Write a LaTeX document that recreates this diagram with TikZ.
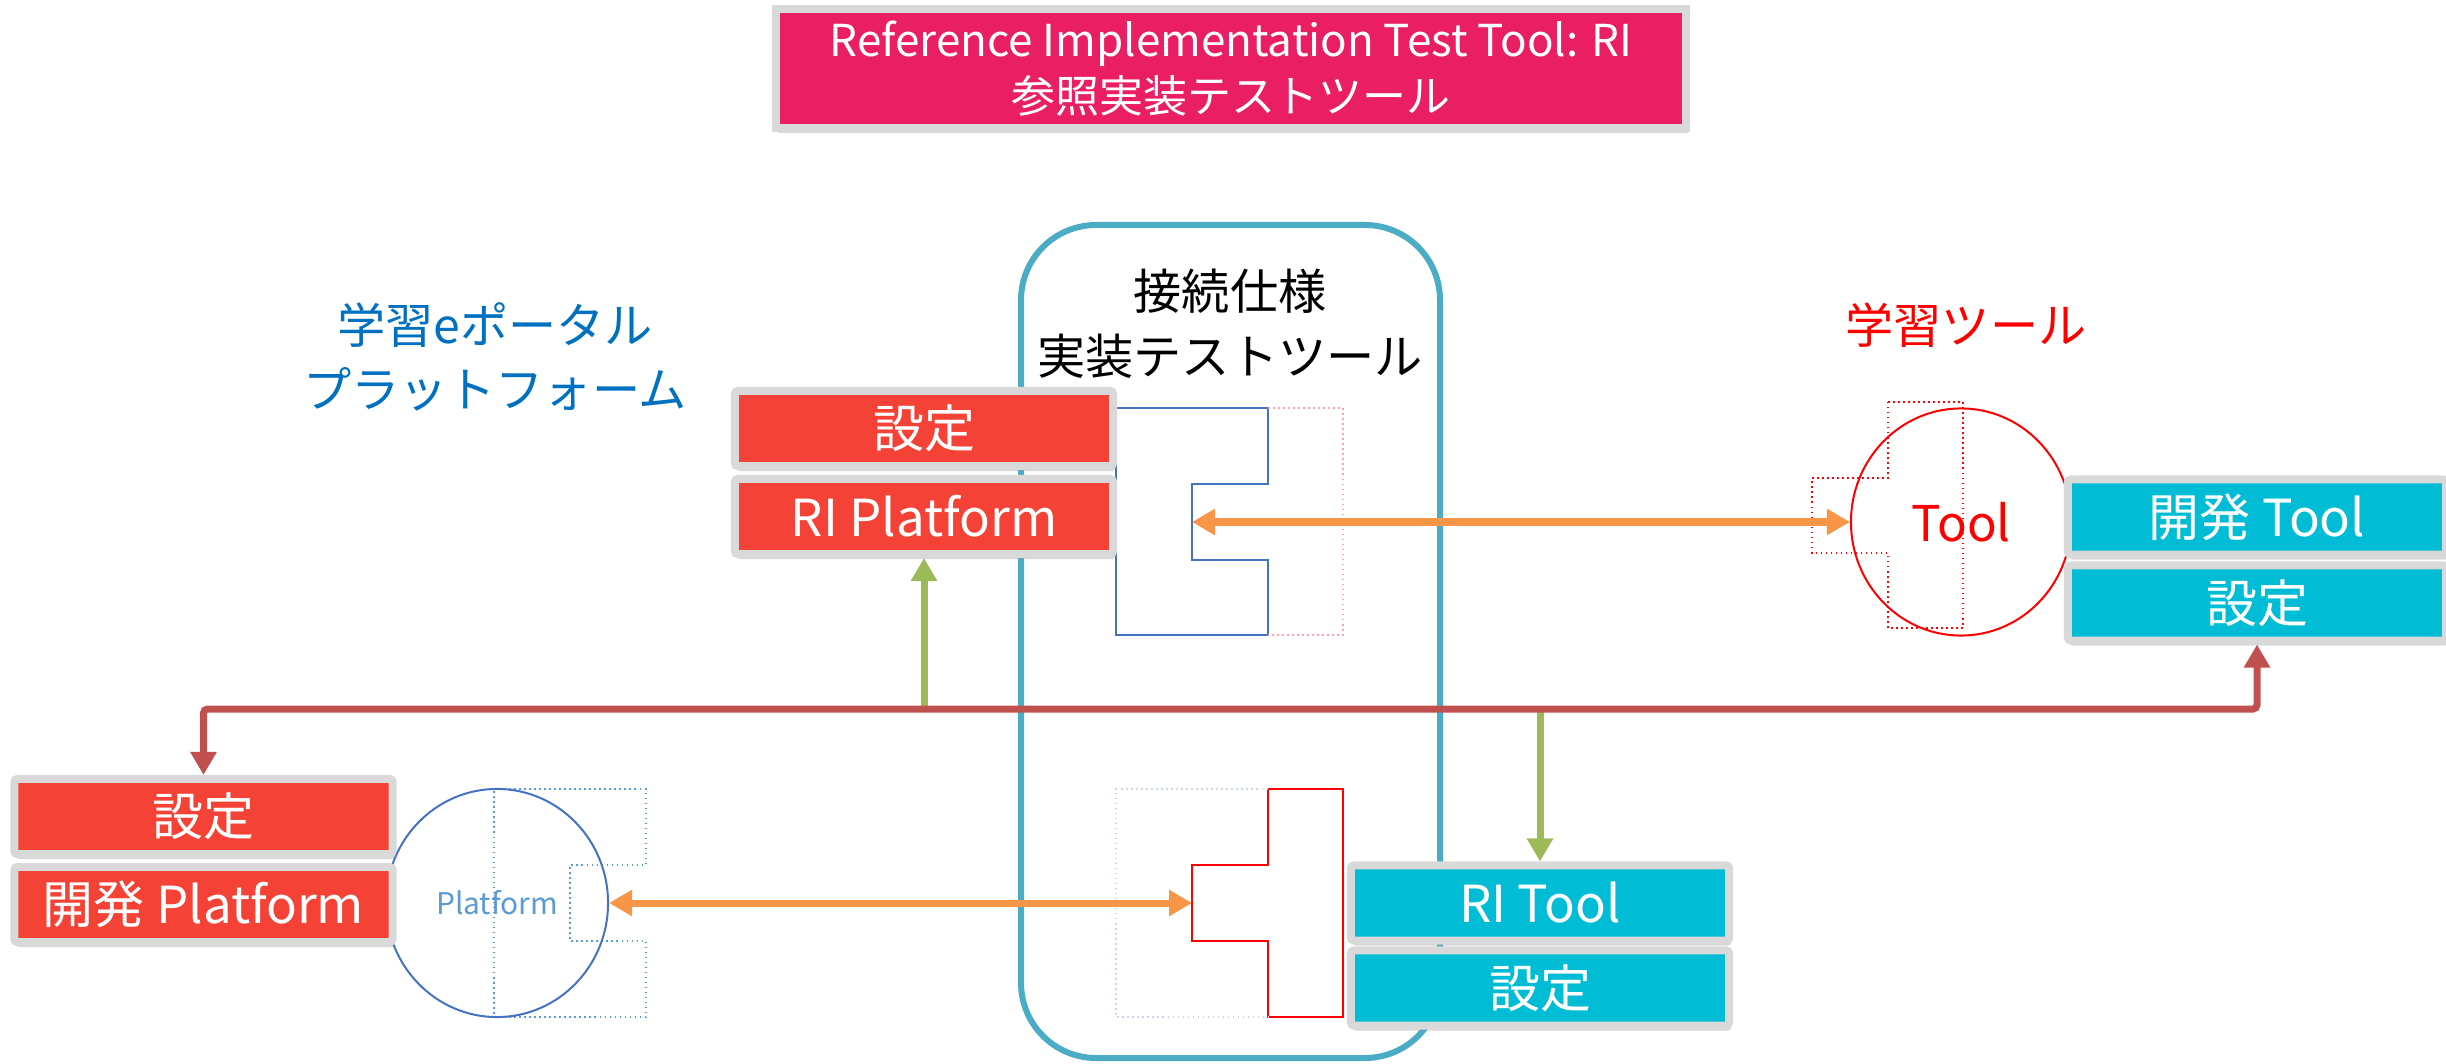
\documentclass[tikz,border=0pt]{standalone}
\usepackage{fontspec}
\usepackage{tikz}
\usetikzlibrary{arrows.meta,shapes.geometric,shadows}
\newfontfamily\jpfont{Noto Sans CJK JP}
\definecolor{titlepink}{HTML}{E91E63}
\definecolor{boxred}{HTML}{F44336}
\definecolor{boxcyan}{HTML}{00BCD4}
\definecolor{framegray}{HTML}{D9D9D9}
\definecolor{busred}{HTML}{C0504D}
\definecolor{busgreen}{HTML}{9BBB59}
\definecolor{linkorange}{HTML}{F79646}
\definecolor{specteal}{HTML}{4BACC6}
\definecolor{plugblue}{HTML}{4472C4}
\definecolor{lightblue}{HTML}{5B9BD5}
\definecolor{labelblue}{HTML}{0070C0}
\definecolor{ghostblue}{HTML}{C9D7EE}
\definecolor{ghostpink}{HTML}{FF9FA8}

\begin{document}
\begin{tikzpicture}[x=0.01cm,y=-0.01cm,
    >={Triangle[length=0.23cm,width=0.25cm]},
    shade/.style={drop shadow={shadow xshift=0.02cm,shadow yshift=-0.05cm,opacity=0.3}},
    frame/.style={draw=framegray,line width=0.08cm,rounded corners=0.03cm,inner sep=0pt,
      minimum width=3.78cm,minimum height=0.75cm,text=white,shade,
      font=\jpfont\fontsize{14.5pt}{17pt}\selectfont},
    redbox/.style={frame,fill=boxred},
    cyanbox/.style={frame,fill=boxcyan},
    label/.style={align=center,font=\jpfont\fontsize{13.7pt}{18pt}\selectfont},
    bus/.style={line width=0.07cm},
    plug/.style={line width=0.02cm},
    ghost/.style={line width=0.015cm,densely dotted}]
    \useasboundingbox (0,0) rectangle (2446,1064);

    \node[draw=framegray,line width=0.08cm,fill=titlepink,shade,
      minimum width=9.1cm,minimum height=1.15cm,text=white,align=center,
      font=\jpfont\fontsize{12.5pt}{16pt}\selectfont] (title) at (1231,68.5)
      {Reference Implementation Test Tool: RI\\参照実装テストツール};

    % connection spec frame
    \draw[specteal,line width=0.06cm,rounded corners=0.75cm] (1021,225) rectangle (1440,1058);
    \node[label,font=\jpfont\fontsize{13.7pt}{18.5pt}\selectfont] (spec) at (1230,324)
      {接続仕様\\実装テストツール};
    \node[label,text=labelblue] (portal) at (495,357) {学習eポータル\\プラットフォーム};
    \node[label,text=red] (learn) at (1966,325) {学習ツール};

    % plugs
    \draw[plug,plugblue] (1116,408) -- (1268,408) -- (1268,484) -- (1192,484) --
    (1192,560) -- (1268,560) -- (1268,635) -- (1116,635) -- cycle;
    \draw[ghost,ghostpink] (1268,408) -- (1343,408) -- (1343,635) -- (1268,635);
    \draw[plug,red] (1268,789) -- (1343,789) -- (1343,1017) -- (1268,1017) --
    (1268,941) -- (1192,941) -- (1192,865) -- (1268,865) -- cycle;
    \draw[ghost,ghostblue] (1268,789) -- (1116,789) -- (1116,1017) -- (1268,1017);
    \draw[ghost,red] (1888,402) -- (1963,402) -- (1963,628) -- (1888,628) --
    (1888,553) -- (1812,553) -- (1812,478) -- (1888,478) -- cycle;
    \draw[ghost,lightblue] (494,789) -- (646,789) -- (646,865) -- (570,865) --
    (570,941) -- (646,941) -- (646,1017) -- (494,1017) -- cycle;
    \coordinate (topnotch) at (1192,522);
    \coordinate (botnotch) at (1192,903);

    \node[ellipse,draw=red,plug,minimum width=2.2cm,minimum height=2.27cm,inner sep=0pt,
      text=red,font=\jpfont\fontsize{14pt}{16pt}\selectfont] (tool) at (1961,522) {Tool};
    \node[ellipse,draw=plugblue,plug,minimum width=2.22cm,minimum height=2.28cm,inner sep=0pt,
      text=lightblue,font=\jpfont\fontsize{8.5pt}{10pt}\selectfont] (plat) at (497,903) {Platform};

    \node[redbox] (riset) at (924,428.5) {設定};
    \node[redbox] (rip) at (924,516.5) {RI Platform};
    \node[cyanbox] (devtool) at (2257,517) {開発 Tool};
    \node[cyanbox] (toolset) at (2257,603) {設定};
    \node[redbox] (platset) at (203.5,816.5) {設定};
    \node[redbox] (devplat) at (203.5,904.5) {開発 Platform};
    \node[cyanbox] (ritool) at (1540,903) {RI Tool};
    \node[cyanbox] (ritoolset) at (1540,988) {設定};

    \coordinate (bus) at (0,709);
    \draw[bus,busgreen,->] (rip.south |- bus) -- (rip.south);
    \draw[bus,busgreen,->] (ritool.north |- bus) -- (ritool.north);
    \draw[bus,busred,<->,rounded corners=0.04cm] (platset.north) -- (platset.north |- bus) -| (toolset.south);

    \draw[bus,linkorange,<->] (topnotch) -- (tool.west);
    \draw[bus,linkorange,<->] (plat.east) -- (botnotch);
  \end{tikzpicture}
\end{document}
